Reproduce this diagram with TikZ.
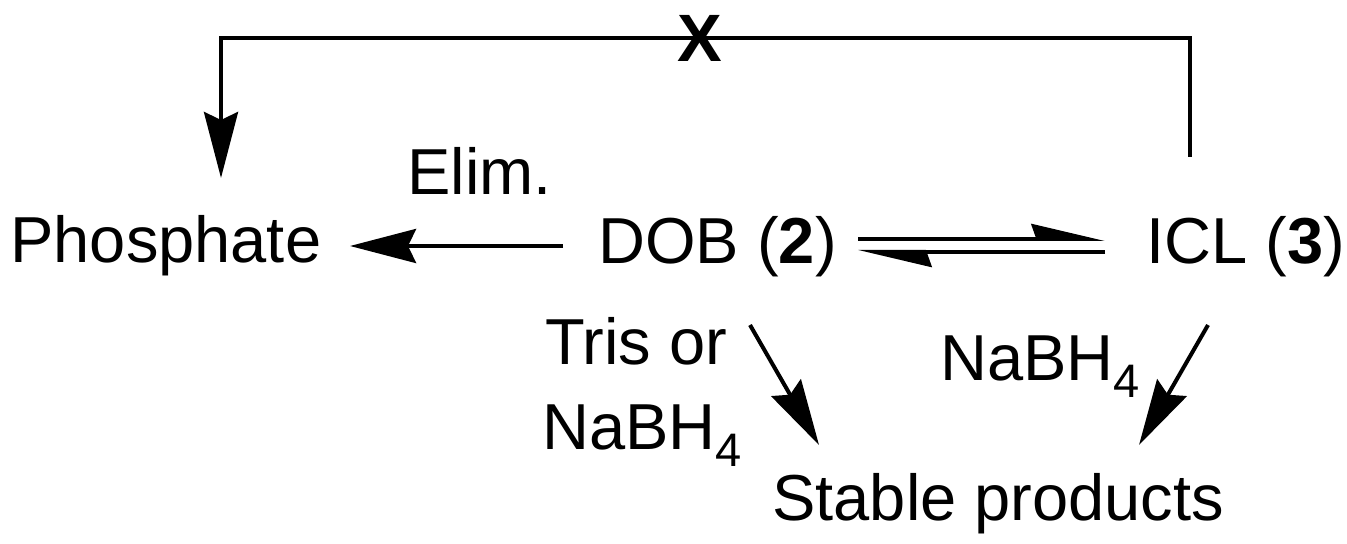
\documentclass[tikz,border=0pt]{standalone}
\usepackage{fontspec}
\setmainfont{Liberation Sans}
\usetikzlibrary{arrows.meta}
\begin{document}
\begin{tikzpicture}[x=0.5pt,y=-0.5pt,
  lbl/.style={anchor=base west,inner sep=0pt,font=\fontsize{32.5}{39}\selectfont},
  rxn/.style={line width=2pt,-{Stealth[length=33pt,width=17pt,inset=4pt]}},
  eqm/.style={line width=2pt,-{Stealth[harpoon,length=32.5pt,width=15pt,inset=2.5pt]}}]
\newcommand\subfour{\raisebox{-8.5pt}{\fontsize{23.5}{28}\selectfont 4}}
\useasboundingbox (0,0) rectangle (1347,544);

% species and reagents
\node[lbl] (phos)   at (10,263)   {Phosphate};
\node[lbl] (dob)    at (598,264)  {DOB (\textbf{2})};
\node[lbl] (icl)    at (1146,264) {ICL (\textbf{3})};
\node[lbl] (elim)   at (407,195)  {Elim.};
\node[lbl] (tris)   at (545,365)  {Tris or};
\node[lbl] (nabhA)  at (542,450)  {NaBH\subfour};
\node[lbl] (nabhB)  at (940,381)  {NaBH\subfour};
\node[lbl] (stable) at (772,520)  {Stable products};
\node[inner sep=0pt,font=\fontsize{33.5}{40}\selectfont\bfseries] (blocked) at (700,38) {X};

% arrow end points
\coordinate (elimS) at (563,246);
\coordinate (elimE) at (350,246);
\coordinate (fwdS) at (858,239);
\coordinate (fwdE) at (1105,239);
\coordinate (revS) at (1105,252);
\coordinate (revE) at (858,252);
\coordinate (dobDownS) at (750,325);
\coordinate (dobDownE) at (819,445);
\coordinate (iclDownS) at (1208,325);
\coordinate (iclDownE) at (1139,445);
\coordinate (fbS) at (1190,157);
\coordinate (fbE) at (221,178);

% connectors
\draw[rxn] (elimS) -- (elimE);
\draw[eqm] (fwdS) -- (fwdE);
\draw[eqm] (revS) -- (revE);
\draw[rxn] (dobDownS) -- (dobDownE);
\draw[rxn] (iclDownS) -- (iclDownE);
\draw[rxn] (fbS) |- (blocked.center) -| (fbE);
\end{tikzpicture}
\end{document}
